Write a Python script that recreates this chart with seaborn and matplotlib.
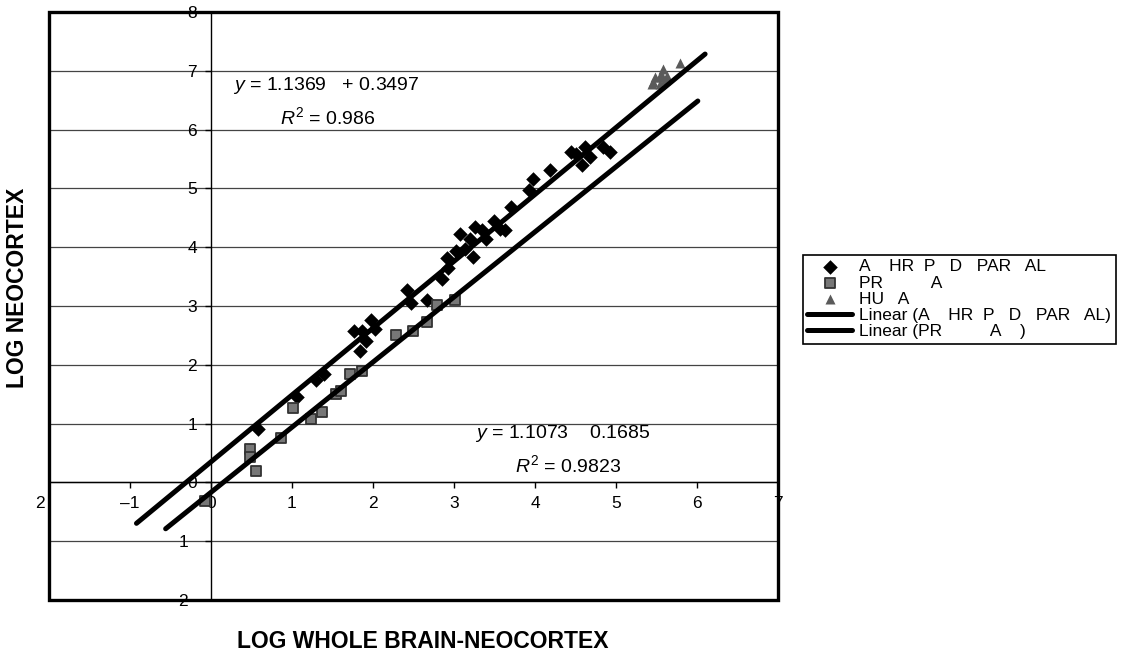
import matplotlib
matplotlib.use("Agg")
import matplotlib.pyplot as plt
import seaborn as sns
from matplotlib.patches import Rectangle

# Anthropoid-type primates (diamonds)
group_a_x = [0.58, 1.06, 1.30, 1.40, 1.76, 1.84, 1.86, 1.91, 1.97, 2.02,
             2.42, 2.47, 2.67, 2.85, 2.91, 2.93, 3.03, 3.07, 3.14, 3.20,
             3.23, 3.26, 3.34, 3.40, 3.49, 3.57, 3.63, 3.70, 3.92, 3.98,
             4.19, 4.45, 4.51, 4.58, 4.62, 4.68, 4.84, 4.93]
group_a_y = [0.91, 1.46, 1.75, 1.85, 2.57, 2.24, 2.58, 2.40, 2.76, 2.61,
             3.28, 3.05, 3.10, 3.46, 3.81, 3.65, 3.93, 4.22, 3.97, 4.14,
             3.83, 4.34, 4.29, 4.14, 4.45, 4.31, 4.29, 4.68, 4.97, 5.16,
             5.31, 5.62, 5.59, 5.39, 5.70, 5.53, 5.71, 5.62]

# Prosimian-type primates (squares)
group_b_x = [-0.07, 0.48, 0.48, 0.56, 0.86, 1.01, 1.23, 1.37, 1.54, 1.60,
             1.72, 1.87, 2.28, 2.49, 2.67, 2.79, 3.01]
group_b_y = [-0.31, 0.57, 0.44, 0.20, 0.76, 1.26, 1.08, 1.19, 1.51, 1.56,
             1.84, 1.90, 2.50, 2.57, 2.73, 3.01, 3.10]

# Human (triangles)
group_h_x = [5.44, 5.46, 5.48, 5.54, 5.56, 5.58, 5.63, 5.54, 5.79, 5.60]
group_h_y = [6.78, 6.81, 6.90, 6.89, 6.94, 7.03, 6.92, 6.78, 7.13, 6.85]

# Linear trend lines: slope, intercept, x extent
fit_a_slope, fit_a_icpt = 1.1369, 0.3497
fit_b_slope, fit_b_icpt = 1.1073, -0.1685
fit_a_x = [-0.92, 6.10]
fit_b_x = [-0.56, 6.01]
fit_a_y = [fit_a_slope * v + fit_a_icpt for v in fit_a_x]
fit_b_y = [fit_b_slope * v + fit_b_icpt for v in fit_b_x]

label_a = "A    HR  P   D   PAR   AL"
label_b = "PR          A"
label_h = "HU   A"
label_fit_a = "Linear (A    HR  P   D   PAR   AL)"
label_fit_b = "Linear (PR          A    )"

x_ticks = [-2, -1, 0, 1, 2, 3, 4, 5, 6, 7]
x_tick_labels = ["2\u2003", "\u20131", "0", "1", "2", "3", "4", "5", "6", "7"]
y_ticks = [-2, -1, 0, 1, 2, 3, 4, 5, 6, 7, 8]
y_tick_labels = ["2\u2002", "1\u2002", "0", "1", "2", "3", "4", "5", "6", "7", "8"]

sns.set_style("white")
plt.rcParams["font.family"] = ["Liberation Sans", "DejaVu Sans"]
plt.rcParams["mathtext.fontset"] = "custom"
plt.rcParams["mathtext.rm"] = "Liberation Sans"
plt.rcParams["mathtext.it"] = "Liberation Sans:italic"
plt.rcParams["text.color"] = "black"
plt.rcParams["axes.labelcolor"] = "black"
plt.rcParams["xtick.color"] = "black"
plt.rcParams["ytick.color"] = "black"

fig = plt.figure(figsize=(11.32, 6.64), dpi=100)
ax = fig.add_axes([49 / 1132, 64 / 664, 729 / 1132, 588 / 664])

sns.scatterplot(x=group_a_x, y=group_a_y, marker="D", s=55, color="black",
                edgecolor="black", linewidth=0, label=label_a, ax=ax, zorder=3)
sns.scatterplot(x=group_b_x, y=group_b_y, marker="s", s=62, color="#777777",
                edgecolor="#333333", linewidth=1.3, label=label_b, ax=ax, zorder=3)
sns.scatterplot(x=group_h_x, y=group_h_y, marker="^", s=52, color="#5a5a5a",
                edgecolor="#5a5a5a", linewidth=0, label=label_h, ax=ax, zorder=3)
sns.lineplot(x=fit_a_x, y=fit_a_y, color="black", lw=3.6, label=label_fit_a,
             ax=ax, zorder=4, solid_capstyle="round")
sns.lineplot(x=fit_b_x, y=fit_b_y, color="black", lw=3.6, label=label_fit_b,
             ax=ax, zorder=4, solid_capstyle="round")

ax.set_xlim(-2, 7)
ax.set_ylim(-2, 8)

# axes cross at the origin; outer frame drawn separately
for side in ("top", "right"):
    ax.spines[side].set_visible(False)
ax.spines["left"].set_position(("data", 0))
ax.spines["bottom"].set_position(("data", 0))
for side in ("left", "bottom"):
    ax.spines[side].set_linewidth(1.0)
    ax.spines[side].set_color("black")

ax.set_xticks(x_ticks)
ax.set_xticklabels(x_tick_labels)
ax.set_yticks(y_ticks)
ax.set_yticklabels(y_tick_labels)
ax.tick_params(axis="both", bottom=True, left=True, direction="out",
               length=4, width=1, labelsize=12.5, colors="black")
ax.tick_params(axis="x", pad=6)
ax.tick_params(axis="y", pad=6)

ax.yaxis.grid(True, color="#444444", lw=0.9)
ax.xaxis.grid(False)
ax.set_axisbelow(True)

ax.add_patch(Rectangle((0, 0), 1, 1, transform=ax.transAxes, fill=False,
                       edgecolor="black", lw=2.4, zorder=10, clip_on=False))

# regression equations
ax.text(0.27, 6.75, r"$y$ = 1.1369   + 0.3497", fontsize=14, va="center")
ax.text(0.85, 6.21, r"$R^2$ = 0.986", fontsize=14, va="center")
ax.text(3.26, 0.83, r"$y$ = 1.1073    0.1685", fontsize=14, va="center")
ax.text(3.75, 0.29, r"$R^2$ = 0.9823", fontsize=14, va="center")

fig.text(18 / 1132, 1 - 288 / 664, "LOG NEOCORTEX", rotation=90,
         fontsize=16.5, fontweight="bold", ha="center", va="center")
fig.text(423 / 1132, 1 - 641 / 664, "LOG WHOLE BRAIN-NEOCORTEX",
         fontsize=16.5, fontweight="bold", ha="center", va="center")

handles, labels = ax.get_legend_handles_labels()
order = [label_a, label_b, label_h, label_fit_a, label_fit_b]
hmap = dict(zip(labels, handles))
leg = ax.legend([hmap[k] for k in order], order, loc="upper left",
                bbox_to_anchor=(803 / 1132, 1 - 255 / 664),
                bbox_transform=fig.transFigure, fontsize=12.5, frameon=True,
                fancybox=False, edgecolor="black", framealpha=1,
                handlelength=2.6, handletextpad=0.4, labelspacing=0.06,
                borderpad=0.25, borderaxespad=0, labelcolor="black")
leg.get_frame().set_linewidth(1.2)

fig.savefig("out.png", dpi=100)
